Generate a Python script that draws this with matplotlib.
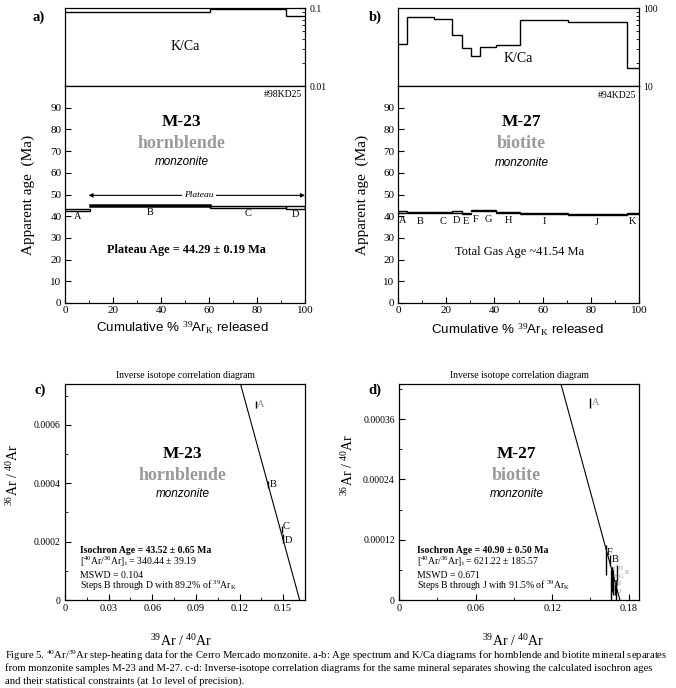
import matplotlib
matplotlib.use("Agg")
import matplotlib.pyplot as plt
import numpy as np
from matplotlib.ticker import FixedLocator, FuncFormatter, NullLocator, NullFormatter

plt.rcParams['font.family'] = ['Liberation Serif', 'DejaVu Serif']
plt.rcParams['mathtext.fontset'] = 'custom'
plt.rcParams['mathtext.rm'] = 'Liberation Serif'
plt.rcParams['mathtext.it'] = 'Liberation Serif:italic'
plt.rcParams['mathtext.bf'] = 'Liberation Serif:bold'
plt.rcParams['axes.linewidth'] = 0.9

# ---- data: sample M-23 (hornblende) ----
steps_a = [0, 10.5, 60.5, 92, 100]
labels_a = ['A', 'B', 'C', 'D']
age_a = [43.05, 44.8, 44.25, 44.15]
err_a = [0.45, 0.3, 0.35, 0.75]
kca_a = [0.090, 0.090, 0.097, 0.079]

# ---- data: sample M-27 (biotite) ----
steps_b = [0, 3.6, 15, 22.5, 26.4, 30.2, 34, 40.8, 50.7, 70.4, 94.9, 100]
labels_b = ['A', 'B', 'C', 'D', 'E', 'F', 'G', 'H', 'I', 'J', 'K']
age_b = [42.0, 41.5, 41.5, 42.0, 41.2, 42.5, 42.5, 41.7, 41.3, 40.9, 41.2]
err_b = [0.35, 0.25, 0.25, 0.3, 0.3, 0.3, 0.3, 0.2, 0.15, 0.15, 0.3]
kca_b = [34.3, 77.6, 71.6, 44.7, 31.0, 24.3, 32.0, 33.9, 70.0, 66.8, 17.2]

# ---- isochron data ----
iso_c_lab = ['A', 'B', 'C', 'D']
iso_c_x = [0.1313, 0.1398, 0.1490, 0.1501]
iso_c_y = [0.00067, 0.000395, 0.000241, 0.000211]
iso_c_err = [0.000013, 0.000012, 0.000012, 0.000015]
iso_c_int = 1 / 340.44      # 36/40 intercept
iso_c_xint = 0.1613         # 39/40 intercept

iso_d_lab = ['A', 'F', 'B', 'C', 'D', 'E', 'G', 'H', 'I', 'J', 'K']
iso_d_x = [0.1500, 0.1623, 0.1653, 0.1665, 0.1668, 0.1660, 0.1675, 0.1680, 0.1690, 0.1700, 0.1705]
iso_d_y = [0.000393, 0.00008, 0.00008, 0.000045, 0.00004, 0.00003, 0.00004, 0.00003, 0.000025, 0.00002, 0.00005]
iso_d_err = [0.00001, 0.00003, 0.00001, 0.00002, 0.000025, 0.00003, 0.00002, 0.00002, 0.000015, 0.00002, 0.00002]
iso_d_int = 1 / 621.22
iso_d_xint = 0.1731

W, H = 676, 688
fig = plt.figure(figsize=(W / 100, H / 100), dpi=100)


def fbox(x0, y0, x1, y1):
    # pixel box -> figure fraction [left, bottom, width, height]
    return [x0 / W, 1 - y1 / H, (x1 - x0) / W, (y1 - y0) / H]


gfmt = FuncFormatter(lambda v, p: '0' if v == 0 else '%g' % v)
SANS = ['Liberation Sans', 'DejaVu Sans']


def spectrum(xl, xr, steps, kca, kylim, ktext_y, ages, errs, labs, lab_off, thick=None):
    axk = fig.add_axes(fbox(xl, 8, xr, 86))
    axa = fig.add_axes(fbox(xl, 86, xr, 303))
    # K/Ca
    axk.stairs(kca, steps, baseline=None, color='k', lw=1.0)
    axk.set_yscale('log')
    axk.set_ylim(*kylim)
    axk.set_xlim(0, 100)
    axk.xaxis.set_major_locator(NullLocator())
    axk.yaxis.tick_right()
    axk.tick_params(axis='y', which='both', direction='in', labelsize=7, pad=3)
    axk.tick_params(axis='y', which='major', length=4)
    axk.tick_params(axis='y', which='minor', length=2.5)
    axk.yaxis.set_minor_formatter(NullFormatter())
    axk.yaxis.set_major_formatter(FuncFormatter(lambda v, p: '%g' % v))
    axk.text(50, ktext_y, 'K/Ca', ha='center', va='center', fontsize=10)
    # age boxes
    edges = np.array(steps)
    widths = np.diff(edges)
    lower = np.array(ages) - np.array(errs)
    lws = [1.0] * len(ages)
    if thick is not None:
        lws[thick] = 1.8
    axa.bar(edges[:-1], 2 * np.array(errs), width=widths, bottom=lower,
            align='edge', fill=False, edgecolor='k', linewidth=lws)
    mids = edges[:-1] + widths / 2
    for m, lo, t in zip(mids, lower, labs):
        axa.text(m, lo - lab_off, t, ha='center', va='center', fontsize=7.5)
    axa.set_xlim(0, 100)
    axa.set_ylim(0, 100)
    axa.yaxis.set_major_locator(FixedLocator(np.arange(0, 100, 10)))
    axa.xaxis.set_major_locator(FixedLocator([0, 20, 40, 60, 80, 100]))
    axa.xaxis.set_minor_locator(FixedLocator([10, 30, 50, 70, 90]))
    axa.tick_params(which='both', direction='in', labelsize=8, top=False, right=False)
    axa.tick_params(which='major', length=4, pad=2.5)
    axa.tick_params(which='minor', length=2.5)
    axa.set_ylabel('Apparent age  (Ma)', fontsize=11)
    axa.set_xlabel('Cumulative % $^{39}$Ar$_{\\rm K}$ released', fontsize=9.6, family=SANS)
    return axk, axa


# ---------- panel a ----------
axk, axa = spectrum(65, 305, steps_a, kca_a, (0.01, 0.1), 0.032,
                    age_a, err_a, labels_a, 2.8, thick=1)
axa.yaxis.set_label_coords(-0.125, 0.5)
axa.xaxis.set_label_coords(0.49, -0.075)
axa.annotate('', xy=(100, 49.6), xytext=(9.8, 49.6),
             arrowprops=dict(arrowstyle='<|-|>', color='k', lw=0.8,
                             mutation_scale=6, shrinkA=0, shrinkB=0))
axa.text(55.8, 49.6, 'Plateau', ha='center', va='center', fontsize=6.8, style='italic',
         bbox=dict(fc='white', ec='none', pad=1.5))
axa.text(0.986, 95.9, '#98KD25', ha='right', va='center', fontsize=7,
         transform=axa.get_yaxis_transform())
axa.text(48.6, 83.5, 'M-23', ha='center', va='center', fontsize=12.5, weight='bold')
axa.text(48.6, 73.7, 'hornblende', ha='center', va='center', fontsize=13, weight='bold', color='#9a9a9a')
axa.text(48.6, 65, 'monzonite', ha='center', va='center', fontsize=8.5, style='italic', family=SANS)
axa.text(50.8, 24.4, 'Plateau Age = 44.29 \u00b1 0.19 Ma', ha='center', va='center',
         fontsize=8.8, weight='bold')

# ---------- panel b ----------
axk, axb = spectrum(398, 639, steps_b, kca_b, (10, 100), 22.2,
                    age_b, err_b, labels_b, 3.5)
axb.yaxis.set_label_coords(-0.12, 0.5)
axb.xaxis.set_label_coords(0.496, -0.085)
axb.text(0.99, 95.7, '#94KD25', ha='right', va='center', fontsize=7,
         transform=axb.get_yaxis_transform())
axb.text(51.3, 83.5, 'M-27', ha='center', va='center', fontsize=12.5, weight='bold')
axb.text(51.3, 73.3, 'biotite', ha='center', va='center', fontsize=13, weight='bold', color='#9a9a9a')
axb.text(51.3, 64.7, 'monzonite', ha='center', va='center', fontsize=8.5, style='italic', family=SANS)
axb.text(50.6, 23.3, 'Total Gas Age ~41.54 Ma', ha='center', va='center', fontsize=9)


# ---------- isochron panels ----------
def isochron(xl, xr, xs, ys, es, labs, yint, xint, xlim, ylim, xmaj, xmin, ymaj, ymin,
             name, mineral, lines, txt_x, lab_colors, lab_dx, lab_dy, lab_fs):
    ax = fig.add_axes(fbox(xl, 384, xr, 600))
    ax.errorbar(xs, ys, yerr=es, fmt='none', ecolor='k', elinewidth=1.0, capsize=0)
    for x, y, t, c, dx, dy, fs in zip(xs, ys, labs, lab_colors, lab_dx, lab_dy, lab_fs):
        ax.text(x + dx, y + dy, t, ha='left', va='center', fontsize=fs, color=c)
    lx = np.array([0, xint])
    ax.plot(lx, yint * (1 - lx / xint), color='k', lw=0.8)
    ax.set_xlim(*xlim)
    ax.set_ylim(*ylim)
    ax.xaxis.set_major_locator(FixedLocator(xmaj))
    ax.xaxis.set_minor_locator(FixedLocator(xmin))
    ax.yaxis.set_major_locator(FixedLocator(ymaj))
    ax.yaxis.set_minor_locator(FixedLocator(ymin))
    ax.xaxis.set_major_formatter(gfmt)
    ax.yaxis.set_major_formatter(gfmt)
    ax.tick_params(which='both', direction='in')
    ax.tick_params(axis='x', labelsize=7.5)
    ax.tick_params(axis='y', labelsize=7)
    ax.tick_params(which='major', length=4, pad=3)
    ax.tick_params(which='minor', length=2.5)
    ax.text(0.5, 1.04, 'Inverse isotope correlation diagram', transform=ax.transAxes,
            ha='center', va='center', fontsize=7)
    ax.text(0.49, 0.675, name, transform=ax.transAxes, ha='center', va='center',
            fontsize=12.5, weight='bold')
    ax.text(0.49, 0.575, mineral, transform=ax.transAxes, ha='center', va='center',
            fontsize=13, weight='bold', color='#9a9a9a')
    ax.text(0.49, 0.49, 'monzonite', transform=ax.transAxes, ha='center', va='center',
            fontsize=8.5, style='italic', family=SANS)
    ys_txt = [0.231, 0.175, 0.115, 0.065]
    for i, (s, yy) in enumerate(zip(lines, ys_txt)):
        ax.text(txt_x, yy, s, transform=ax.transAxes, ha='left',
                va='center', fontsize=7, weight='bold' if i == 0 else 'normal')
    ax.set_ylabel('$^{36}$Ar / $^{40}$Ar', fontsize=10)
    ax.set_xlabel('$^{39}$Ar / $^{40}$Ar', fontsize=10)
    return ax


axc = isochron(65, 305, iso_c_x, iso_c_y, iso_c_err, iso_c_lab, iso_c_int, iso_c_xint,
               (0, 0.165), (0, 0.00074),
               [0, 0.03, 0.06, 0.09, 0.12, 0.15], [0.015, 0.045, 0.075, 0.105, 0.135],
               [0, 0.0002, 0.0004, 0.0006], [0.0001, 0.0003, 0.0005, 0.0007],
               'M-23', 'hornblende',
               ['Isochron Age = 43.52 \u00b1 0.65 Ma',
                '[$^{40}$Ar/$^{36}$Ar]$_{\\rm i}$ = 340.44 \u00b1 39.19',
                'MSWD = 0.104',
                'Steps B through D with 89.2% of $^{39}$Ar$_{\\rm K}$'],
               0.062,
               ['#8a8a8a', 'k', 'k', 'k'], [0.0008, 0.0008, 0.0008, 0.0008],
               [0.0, 0.0, 0.000012, -0.000008], [7.5] * 4)
axc.yaxis.set_label_coords(-0.183, 0.58)
axc.xaxis.set_label_coords(0.486, -0.155)

teal = '#7fa0a8'
# label offsets for the crowded cluster of steps in panel d
d_dx = [0.0008, 0.0006, 0.0012, 0.0020, 0.0047, 0.0025, 0.0050, 0.0005, 0.0035, 0.0025, 0.0060]
d_dy = [0.0, 0.000014, 0.0, 0.000017, 0.000022, 0.000017, 0.000007, 0.000002, 0.000007, -0.000003, 0.000005]
axd = isochron(399, 639, iso_d_x, iso_d_y, iso_d_err, iso_d_lab, iso_d_int, iso_d_xint,
               (0, 0.188), (0, 0.00043),
               [0, 0.06, 0.12, 0.18], [0.03, 0.09, 0.15],
               [0, 0.00012, 0.00024, 0.00036], [0.00006, 0.00018, 0.0003, 0.00042],
               'M-27', 'biotite',
               ['Isochron Age = 40.90 \u00b1 0.50 Ma',
                '[$^{40}$Ar/$^{36}$Ar]$_{\\rm i}$ = 621.22 \u00b1 185.57',
                'MSWD = 0.671',
                'Steps B through J with 91.5% of $^{39}$Ar$_{\\rm K}$'],
               0.076,
               ['#8a8a8a', 'k', 'k', teal, teal, teal, teal, teal, teal, teal, teal],
               d_dx, d_dy, [7.5, 7.5, 7.5] + [4.8] * 8)
axd.yaxis.set_label_coords(-0.179, 0.625)
axd.xaxis.set_label_coords(0.475, -0.155)

# panel letters
for t, x, y in [('a)', 39, 17), ('b)', 375, 17), ('c)', 40, 390), ('d)', 375, 390)]:
    fig.text(x / W, 1 - y / H, t, ha='center', va='center', fontsize=10.5, weight='bold')

caption = [
    'Figure 5. $^{40}$Ar/$^{39}$Ar step-heating data for the Cerro Mercado monzonite. a-b: Age spectrum and K/Ca diagrams for hornblende and biotite mineral separates',
    'from monzonite samples M-23 and M-27. c-d: Inverse-isotope correlation diagrams for the same mineral separates showing the calculated isochron ages',
    'and their statistical constraints (at 1\u03c3 level of precision).',
]
for i, line in enumerate(caption):
    fig.text(5 / W, 1 - (656 + 12.5 * i) / H, line, ha='left', va='center', fontsize=7.7)

fig.savefig('out.png', dpi=100)
